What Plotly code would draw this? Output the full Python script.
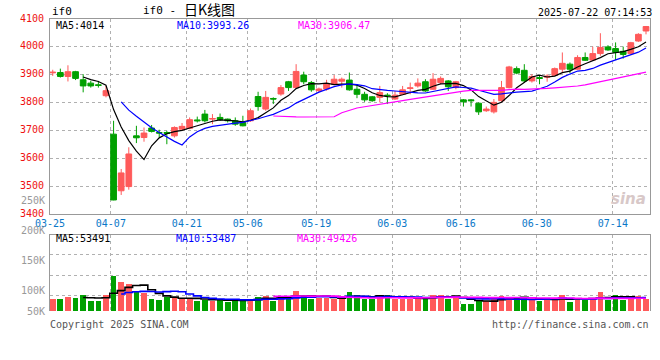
import plotly.graph_objects as go
import pandas as pd

# ---------------- data ----------------
dates = ["03-25", "03-26", "03-27", "03-28", "03-31",
         "04-01", "04-02", "04-03", "04-07", "04-08", "04-09", "04-10", "04-11",
         "04-14", "04-15", "04-16", "04-17", "04-18", "04-21", "04-22", "04-23",
         "04-24", "04-25", "04-28", "04-29", "04-30",
         "05-06", "05-07", "05-08", "05-09", "05-12", "05-13", "05-14", "05-15",
         "05-16", "05-19", "05-20", "05-21", "05-22", "05-23", "05-26", "05-27",
         "05-28", "05-29", "05-30",
         "06-03", "06-04", "06-05", "06-06", "06-09", "06-10", "06-11", "06-12",
         "06-13", "06-16", "06-17", "06-18", "06-19", "06-20", "06-23", "06-24",
         "06-25", "06-26", "06-27", "06-30",
         "07-01", "07-02", "07-03", "07-04", "07-07", "07-08", "07-09", "07-10",
         "07-11", "07-14", "07-15", "07-16", "07-17", "07-18"]

opens = [3907, 3908, 3894, 3911, 3882, 3870, 3864, 3825, 3687, 3484,
         3499, 3681, 3675, 3709, 3693, 3693, 3681, 3705, 3708, 3738,
         3759, 3741, 3747, 3741, 3735, 3729, 3735, 3822, 3777, 3815,
         3831, 3875, 3854, 3899, 3872, 3843, 3849, 3866, 3877, 3881,
         3848, 3830, 3821, 3819, 3827, 3813, 3830, 3851, 3860, 3875,
         3848, 3872, 3878, 3854, 3810, 3810, 3798, 3771, 3767, 3807,
         3854, 3922, 3916, 3878, 3890, 3891, 3898, 3920, 3938, 3920,
         3962, 3953, 3976, 4000, 3994, 3984, 3976, 4021, 4057]
highs = [3918, 3922, 3934, 3914, 3902, 3878, 3878, 3860, 3735, 3562,
         3640, 3717, 3711, 3720, 3703, 3699, 3715, 3727, 3747, 3750,
         3774, 3759, 3761, 3743, 3747, 3753, 3779, 3839, 3842, 3819,
         3863, 3878, 3938, 3911, 3878, 3854, 3882, 3899, 3890, 3908,
         3866, 3839, 3824, 3860, 3834, 3842, 3860, 3872, 3887, 3884,
         3906, 3894, 3881, 3878, 3813, 3813, 3801, 3786, 3813, 3878,
         3932, 3930, 3938, 3902, 3896, 3902, 3926, 3980, 3944, 3970,
         3980, 4001, 4049, 4006, 4016, 4001, 4018, 4049, 4075]
lows = [3896, 3890, 3876, 3881, 3837, 3854, 3854, 3819, 3450, 3469,
        3488, 3655, 3660, 3693, 3675, 3651, 3675, 3699, 3705, 3729,
        3729, 3723, 3735, 3729, 3717, 3715, 3731, 3771, 3771, 3795,
        3825, 3842, 3851, 3866, 3839, 3837, 3843, 3863, 3854, 3843,
        3816, 3803, 3803, 3801, 3795, 3810, 3827, 3830, 3854, 3839,
        3846, 3866, 3842, 3848, 3786, 3786, 3756, 3767, 3761, 3803,
        3851, 3902, 3872, 3872, 3866, 3875, 3896, 3906, 3906, 3918,
        3950, 3950, 3968, 3986, 3953, 3958, 3974, 4018, 4045]
closes = [3909, 3894, 3911, 3887, 3860, 3860, 3862, 3843, 3451, 3548,
          3616, 3674, 3691, 3697, 3691, 3690, 3711, 3715, 3739, 3735,
          3735, 3743, 3739, 3735, 3723, 3717, 3771, 3786, 3819, 3813,
          3854, 3854, 3912, 3875, 3846, 3849, 3869, 3884, 3884, 3846,
          3830, 3810, 3807, 3836, 3825, 3827, 3846, 3853, 3870, 3842,
          3884, 3887, 3857, 3875, 3803, 3807, 3767, 3777, 3801, 3854,
          3928, 3906, 3878, 3894, 3887, 3895, 3922, 3941, 3920, 3962,
          3952, 3976, 3998, 3989, 3980, 3973, 4015, 4045, 4073]
volumes = [86000, 86000, 90000, 88000, 93000, 84000, 83000, 93000, 125000, 115000,
           111000, 99000, 96000, 86000, 85000, 90000, 89000, 86000, 86000, 84000,
           85000, 84000, 85000, 82000, 84000, 83000, 86000, 90000, 92000, 84000,
           92000, 86000, 100000, 92000, 87000, 88000, 88000, 87000, 86000, 98000,
           93000, 86000, 86000, 94000, 93000, 86000, 86000, 86000, 86000, 90000,
           93000, 94000, 86000, 91000, 78000, 79000, 83000, 83000, 89000, 91000,
           86000, 89000, 89000, 85000, 83000, 85000, 85000, 93000, 82000, 87000,
           85000, 87000, 99000, 85000, 93000, 85000, 86000, 91000, 86000]

label_dates = ["03-25", "04-07", "04-21", "05-06", "05-19", "06-03", "06-16", "06-30", "07-14"]
price_ticks = [3400, 3500, 3600, 3700, 3800, 3900, 4000, 4100]
vol_labels = [250000, 200000, 150000, 100000]
vol_label_text = ["250K", "200K", "150K", "100K"]

header_left = "if0"
title_a = "if0 -"
title_b = "日K线图"
stamp = "2025-07-22 07:14:53"
ma_price_text = ["MA5:4014", "MA10:3993.26", "MA30:3906.47"]
ma_vol_text = ["MA5:53491", "MA10:53487", "MA30:49426"]

# ---------------- styles ----------------
RED = "#ff5a5a"
GREEN = "#00a000"
GRID = "#b0b0b0"
BORDER = "#999999"
MONO = "DejaVu Sans Mono"
OFF = 0.36          # grid line sits at the left edge of a candle slot
VOL_MIN, VOL_MAX = 66000, 193300
VOL_DOM = [0, 0.2613]
PRICE_DOM = [0.3315, 1]

n = len(dates)
idx = list(range(n))
df = pd.DataFrame({"o": opens, "h": highs, "l": lows, "c": closes, "v": volumes})
ma = {k: df["c"].rolling(k).mean() for k in (5, 10, 30)}
vma = {k: df["v"].rolling(k).mean() for k in (5, 10, 30)}
ma_colors = {5: "#000000", 10: "#0000ff", 30: "#ff00ff"}

tick_pos = [dates.index(d) - OFF for d in label_dates]
xr = [-OFF - 1e-6, -OFF + 600 / 7.606]


def vol_to_paper(v):
    return VOL_DOM[0] + (v - VOL_MIN) / (VOL_MAX - VOL_MIN) * (VOL_DOM[1] - VOL_DOM[0])


fig = go.Figure()
fig.add_trace(go.Candlestick(
    x=idx, open=opens, high=highs, low=lows, close=closes,
    increasing=dict(line=dict(color=RED, width=1), fillcolor=RED),
    decreasing=dict(line=dict(color=GREEN, width=1), fillcolor=GREEN),
    whiskerwidth=0, hoverinfo="skip", showlegend=False,
    xaxis="x", yaxis="y"))
for k in (5, 10, 30):
    fig.add_trace(go.Scatter(x=idx, y=ma[k], mode="lines",
                             line=dict(color=ma_colors[k], width=1.2),
                             hoverinfo="skip", showlegend=False,
                             xaxis="x", yaxis="y"))

bar_colors = [RED if c >= o else GREEN for o, c in zip(opens, closes)]
fig.add_trace(go.Bar(x=idx, y=volumes, marker=dict(color=bar_colors, line=dict(width=0)),
                     width=0.75, hoverinfo="skip", showlegend=False,
                     xaxis="x2", yaxis="y2"))
for k in (5, 10, 30):
    fig.add_trace(go.Scatter(x=idx, y=vma[k], mode="lines",
                             line=dict(color=ma_colors[k], width=1.6, shape="hvh"),
                             hoverinfo="skip", showlegend=False,
                             xaxis="x2", yaxis="y2"))

axis_common = dict(showline=True, linecolor=BORDER, linewidth=1,
                   showgrid=True, gridcolor=GRID, griddash="dot", gridwidth=1,
                   zeroline=False, fixedrange=True, automargin=False)

fig.update_layout(
    width=660, height=360,
    margin=dict(l=50, r=10, t=19, b=49, autoexpand=False),
    paper_bgcolor="white", plot_bgcolor="white",
    boxgap=0.25, boxgroupgap=0,
    bargap=0,
    xaxis=dict(domain=[0, 1], anchor="y", range=xr, tickmode="array",
               tickvals=tick_pos, ticktext=label_dates, mirror=True, ticks="",
               ticklabelstandoff=0,
               tickfont=dict(family=MONO, size=10, color="#0a78c8"),
               rangeslider=dict(visible=False), **axis_common),
    yaxis=dict(domain=PRICE_DOM, anchor="x", range=[3400, 4100],
               tickmode="array", tickvals=price_ticks, mirror=True, ticks="",
               ticklabelshift=-1, ticklabelstandoff=3,
               tickfont=dict(family=MONO, size=10, color="#ee1111"),
               **axis_common),
    xaxis2=dict(domain=[0, 1], anchor="y2", range=xr, tickmode="array",
                tickvals=tick_pos, showticklabels=False, side="top", mirror=False,
                ticks="", **axis_common),
    yaxis2=dict(domain=VOL_DOM, anchor="x2", range=[VOL_MIN, VOL_MAX],
                tickmode="array", tickvals=[91700, 125300, 159500],
                showticklabels=False, mirror=True, ticks="", **axis_common),
)

ann = []
# volume axis labels (positioned on the volume scale, some lie above the panel)
for v, t in zip(vol_labels, vol_label_text):
    ann.append(dict(x=0, xref="paper", xanchor="right", xshift=-3,
                    y=vol_to_paper(v), yref="paper", yanchor="middle", text=t,
                    showarrow=False, font=dict(family=MONO, size=10, color="#999999")))
ann.append(dict(x=0, xref="paper", xanchor="right", xshift=-3,
                y=vol_to_paper(VOL_MIN), yref="paper", yanchor="middle", text="50K",
                showarrow=False, font=dict(family=MONO, size=10, color="#999999")))

# MA legends
for t, xpx, col in zip(ma_price_text, [54, 175, 296], ["#000000", "#0000ff", "#ff00ff"]):
    ann.append(dict(x=(xpx - 50) / 600, xref="paper", xanchor="left",
                    y=1, yref="paper", yanchor="top", yshift=1, text=t, showarrow=False,
                    font=dict(family=MONO, size=10, color=col)))
for t, xpx, col in zip(ma_vol_text, [54, 174, 295], ["#000000", "#0000ff", "#ff00ff"]):
    ann.append(dict(x=(xpx - 50) / 600, xref="paper", xanchor="left",
                    y=VOL_DOM[1], yref="paper", yanchor="top", yshift=4, text=t,
                    showarrow=False, font=dict(family=MONO, size=10, color=col)))

# header
ann.append(dict(x=0, xref="paper", xanchor="left", xshift=0, y=1, yref="paper",
                yanchor="bottom", yshift=-1, text=header_left, showarrow=False,
                font=dict(family=MONO, size=11, color="#000000")))
ann.append(dict(x=(141 - 50) / 600, xref="paper", xanchor="left", y=1, yref="paper",
                yanchor="bottom", yshift=0, text=title_a, showarrow=False,
                font=dict(family=MONO, size=11, color="#000000")))
ann.append(dict(x=(182 - 50) / 600, xref="paper", xanchor="left", y=1, yref="paper",
                yanchor="bottom", yshift=-2, text=title_b, showarrow=False,
                font=dict(family="Noto Sans CJK SC", size=14, color="#000000")))
ann.append(dict(x=1, xref="paper", xanchor="right", xshift=4, y=1, yref="paper",
                yanchor="bottom", yshift=-1, text=stamp, showarrow=False,
                font=dict(family=MONO, size=10, color="#000000")))
# footer
ann.append(dict(x=0, xref="paper", xanchor="left", xshift=-2, y=0, yref="paper",
                yanchor="top", yshift=-6, text="Copyright 2025 SINA.COM", showarrow=False,
                font=dict(family=MONO, size=10, color="#555555")))
ann.append(dict(x=1, xref="paper", xanchor="right", xshift=1, y=0, yref="paper",
                yanchor="top", yshift=-6, text="http://finance.sina.com.cn", showarrow=False,
                font=dict(family=MONO, size=10, color="#555555")))
# watermark
ann.append(dict(x=1, xref="paper", xanchor="right", xshift=-2, y=PRICE_DOM[0], yref="paper",
                yanchor="bottom", yshift=4, text="<b><i>sina</i></b>", showarrow=False,
                font=dict(family="DejaVu Sans", size=15, color="#d8c8c8")))

fig.update_layout(annotations=ann)
fig.write_html("out.html", config={"displayModeBar": False},
               post_script="document.body.style.margin='0px';document.body.style.overflow='hidden';")
